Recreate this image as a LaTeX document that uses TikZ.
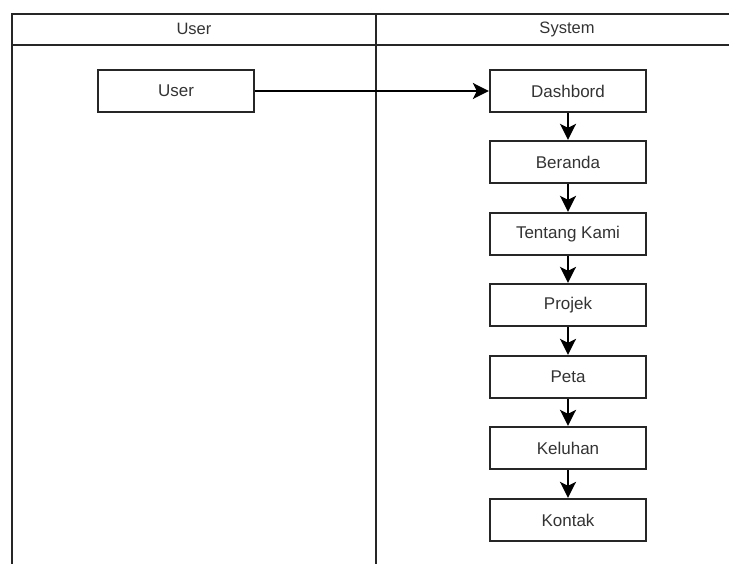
\documentclass[tikz,border=0pt]{standalone}
\usepackage{fontspec}
\setmainfont{Liberation Sans}
\usetikzlibrary{arrows.meta}
\begin{document}
\begin{tikzpicture}[x=1pt,y=-1pt,
  lane/.style={draw=black!85,line width=2.3pt},
  box/.style={draw=black!85,line width=2.3pt,minimum width=156pt,minimum height=42pt,inner sep=0pt,font=\fontsize{17}{19}\selectfont,text=black!80},
  flow/.style={draw=black,line width=2.3pt,-{Stealth[length=16pt,width=16pt,inset=4pt]}},
  hdr/.style={font=\fontsize{16.5}{18}\selectfont,text=black!80}]
\useasboundingbox (0,0) rectangle (729,564);
% swimlanes
\draw[lane] (12,564) -- (12,14) -- (735,14);
\draw[lane] (12,45) -- (735,45);
\draw[lane] (376,14) -- (376,564);
\node[hdr] (hu) at (194,29) {User};
\node[hdr] (hs) at (567,29) {System};
% nodes
\node[box] (user) at (176,91) {User};
\node[box] (d) at (568,91) {Dashbord};
\node[box] (b) at (568,162) {Beranda};
\node[box] (t) at (568,234) {Tentang Kami};
\node[box] (p) at (568,305) {Projek};
\node[box] (pe) at (568,377) {Peta};
\node[box] (k) at (568,448) {Keluhan};
\node[box] (ko) at (568,520) {Kontak};
% connectors
\draw[flow] (user) -- (d);
\draw[flow] (d) -- (b);
\draw[flow] (b) -- (t);
\draw[flow] (t) -- (p);
\draw[flow] (p) -- (pe);
\draw[flow] (pe) -- (k);
\draw[flow] (k) -- (ko);
\end{tikzpicture}
\end{document}
